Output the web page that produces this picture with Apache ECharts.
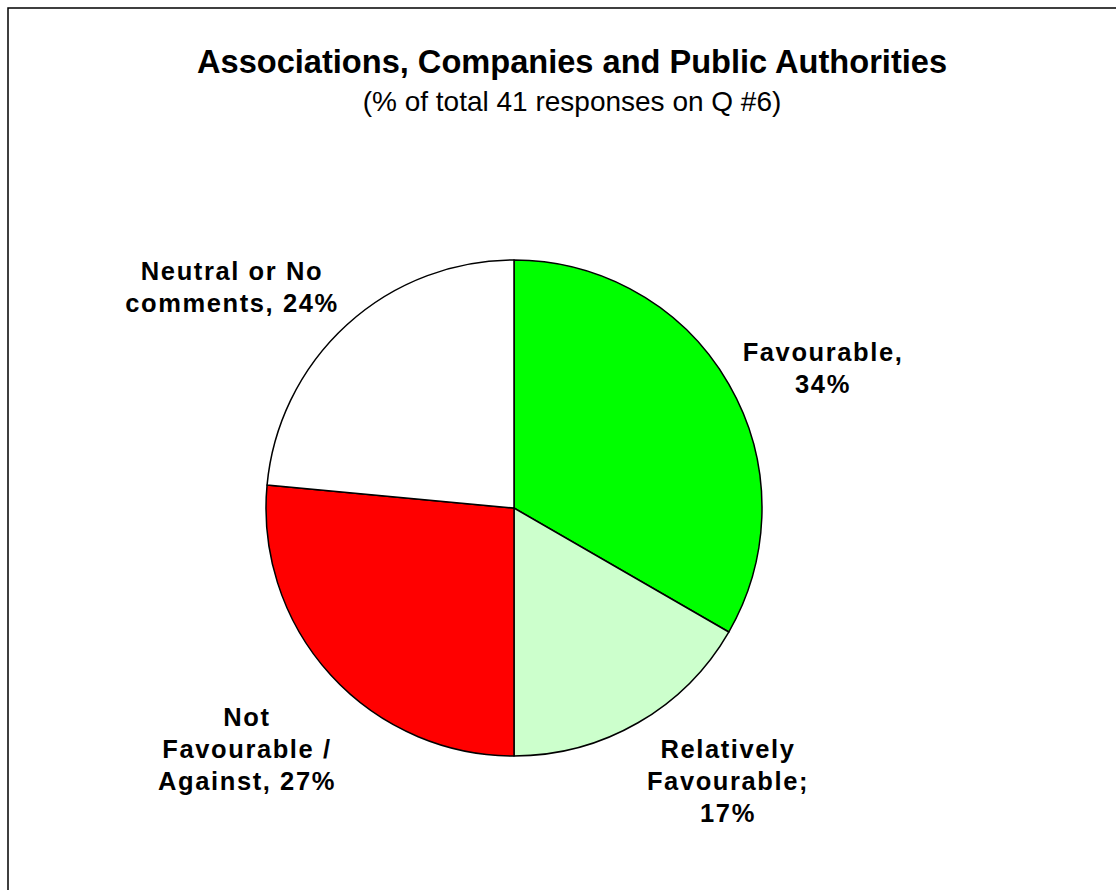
<!DOCTYPE html>
<html>
<head>
<meta charset="utf-8">
<title>Associations, Companies and Public Authorities</title>
<script src="https://cdn.jsdelivr.net/npm/echarts@6/dist/echarts.min.js"></script>
<style>
  html, body { margin: 0; padding: 0; background: #fff; }
  #chart { width: 1116px; height: 890px; }
  /* slice labels are drawn with a little extra tracking */
  #chart text[style*="25.5px"] { letter-spacing: 1.6px; }
</style>
</head>
<body>
<div id="chart"></div>
<script>
// Answers to Q #6, share of the 41 responses (%)
const categories = ['Favourable', 'Relatively Favourable', 'Not Favourable / Against', 'Neutral or No comments'];
const values = [34, 17, 27, 24];
const labelTemplates = ['Favourable,\n{c}%', 'Relatively\nFavourable;\n{c}%', 'Not\nFavourable /\nAgainst, {c}%', 'Neutral or No\ncomments, {c}%'];
const sliceColors = ['#00FF00', '#CCFFCC', '#FF0000', '#FFFFFF'];

const titleText = 'Associations, Companies and Public Authorities';
const subtitleText = '(% of total 41 responses on Q #6)';

// pie geometry and where each label block sits relative to the pie centre
const pieCenter = [514, 508];
const pieRadius = 248;
const labelOffsets = [[309, -140], [214, 273], [-267, 241], [-282, -221]];

const FONT = "'Liberation Sans', Arial, Helvetica, sans-serif";

const chart = echarts.init(document.getElementById('chart'), null, { renderer: 'svg' });

chart.setOption({
  backgroundColor: '#ffffff',
  animation: false,
  title: [
    {
      text: titleText,
      left: 567,
      top: 40,
      textAlign: 'center',
      textStyle: { fontFamily: FONT, fontSize: 32.6, fontWeight: 'bold', color: '#000' }
    },
    {
      text: subtitleText,
      left: 567,
      top: 82,
      textAlign: 'center',
      textStyle: { fontFamily: FONT, fontSize: 28, fontWeight: 'normal', color: '#000' }
    }
  ],
  graphic: [
    {
      type: 'rect',
      silent: true,
      shape: { x: 8, y: 8, width: 1200, height: 1000 },
      style: { fill: 'none', stroke: '#000', lineWidth: 1.5 }
    }
  ],
  series: [
    {
      type: 'pie',
      center: pieCenter,
      radius: pieRadius,
      startAngle: 90,
      clockwise: true,
      avoidLabelOverlap: false,
      itemStyle: { borderColor: '#000', borderWidth: 1.5 },
      emphasis: { disabled: true },
      label: {
        show: true,
        position: 'outside',
        fontFamily: FONT,
        fontSize: 25.5,
        fontWeight: 'bold',
        color: '#000',
        lineHeight: 32,
        align: 'center'
      },
      labelLine: { show: false },
      labelLayout: function (params) {
        const o = labelOffsets[params.dataIndex];
        return {
          x: pieCenter[0] + o[0],
          y: pieCenter[1] + o[1],
          align: 'center',
          verticalAlign: 'middle'
        };
      },
      data: categories.map((name, i) => ({
        name: name,
        value: values[i],
        itemStyle: { color: sliceColors[i] },
        label: { formatter: labelTemplates[i] }
      }))
    }
  ]
});
</script>
</body>
</html>
